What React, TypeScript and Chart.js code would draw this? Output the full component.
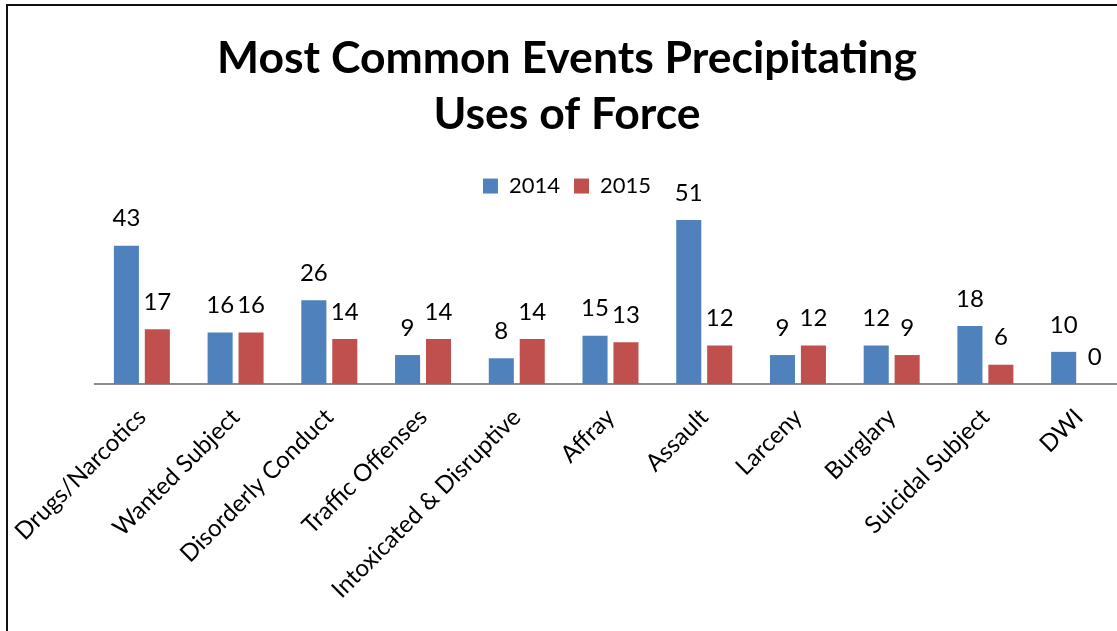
import React, { useEffect, useRef } from "react";
import { Chart, registerables } from "chart.js";

Chart.register(...registerables);

const categories = [
  "Drugs/Narcotics",
  "Wanted Subject",
  "Disorderly Conduct",
  "Traffic Offenses",
  "Intoxicated & Disruptive",
  "Affray",
  "Assault",
  "Larceny",
  "Burglary",
  "Suicidal Subject",
  "DWI",
];
const values2014 = [43, 16, 26, 9, 8, 15, 51, 9, 12, 18, 10];
const values2015 = [17, 16, 14, 14, 14, 13, 12, 12, 9, 6, 0];
const seriesNames = ["2014", "2015"];
const titleLines = ["Most Common Events Precipitating", "Uses of Force"];

const FONT = "Lato, 'DejaVu Sans', sans-serif";

// Writes each bar's value just above it.
const valueLabels = {
  id: "valueLabels",
  afterDatasetsDraw(chart: any) {
    const ctx = chart.ctx;
    ctx.save();
    ctx.font = `24px ${FONT}`;
    ctx.fillStyle = "#000";
    ctx.textAlign = "center";
    ctx.textBaseline = "middle";
    chart.data.datasets.forEach((ds: any, di: number) => {
      const meta = chart.getDatasetMeta(di);
      meta.data.forEach((bar: any, i: number) => {
        ctx.fillText(String(ds.data[i]), bar.x, bar.y - 27);
      });
    });
    ctx.restore();
  },
};

export default function App() {
  const canvasRef = useRef<HTMLCanvasElement | null>(null);

  useEffect(() => {
    if (!canvasRef.current) return;
    const chart = new Chart(canvasRef.current, {
      type: "bar",
      data: {
        labels: categories,
        datasets: [
          {
            label: seriesNames[0],
            data: values2014,
            backgroundColor: "#4F81BD",
            categoryPercentage: 0.66,
            barPercentage: 0.81,
          },
          {
            label: seriesNames[1],
            data: values2015,
            backgroundColor: "#C0504D",
            categoryPercentage: 0.66,
            barPercentage: 0.81,
          },
        ],
      },
      options: {
        animation: false,
        responsive: false,
        maintainAspectRatio: false,
        layout: { padding: { left: 0, right: 0, top: 24, bottom: 0 } },
        plugins: {
          title: {
            display: true,
            text: titleLines,
            color: "#000",
            font: { family: FONT, size: 44.5, weight: "bold", lineHeight: 1.27 },
            padding: { top: 0, bottom: 18 },
          },
          legend: {
            position: "top",
            labels: {
              color: "#000",
              font: { family: FONT, size: 22 },
              boxWidth: 15,
              boxHeight: 15,
              padding: 14,
            },
          },
          tooltip: { enabled: false },
        },
        scales: {
          x: {
            grid: { display: false, drawTicks: false },
            border: { display: true, color: "#8C8C8C", width: 2 },
            ticks: {
              color: "#000",
              font: { family: FONT, size: 24 },
              minRotation: 45,
              maxRotation: 45,
              autoSkip: false,
              padding: 19,
            },
            // the slanted labels may hang past the plot edges
            afterFit(scale: any) {
              scale.paddingLeft = 0;
              scale.paddingRight = 0;
            },
          },
          y: {
            min: 0,
            max: 55,
            grid: { display: false, drawTicks: false },
            border: { display: false },
            ticks: { display: false },
            afterFit(scale: any) {
              scale.width = 87;
            },
          },
        },
      },
      plugins: [valueLabels],
    });
    return () => chart.destroy();
  }, []);

  return (
    <div
      style={{
        position: "fixed",
        left: 0,
        top: 0,
        width: 1117,
        height: 631,
        overflow: "hidden",
        background: "#fff",
      }}
    >
      <div
        style={{
          position: "absolute",
          left: 6,
          top: 4,
          width: 1122,
          height: 680,
          border: "2px solid #111",
          boxSizing: "border-box",
        }}
      >
        <canvas
          ref={canvasRef}
          width={1118}
          height={617}
          style={{ display: "block", width: 1118, height: 617 }}
        />
      </div>
    </div>
  );
}
